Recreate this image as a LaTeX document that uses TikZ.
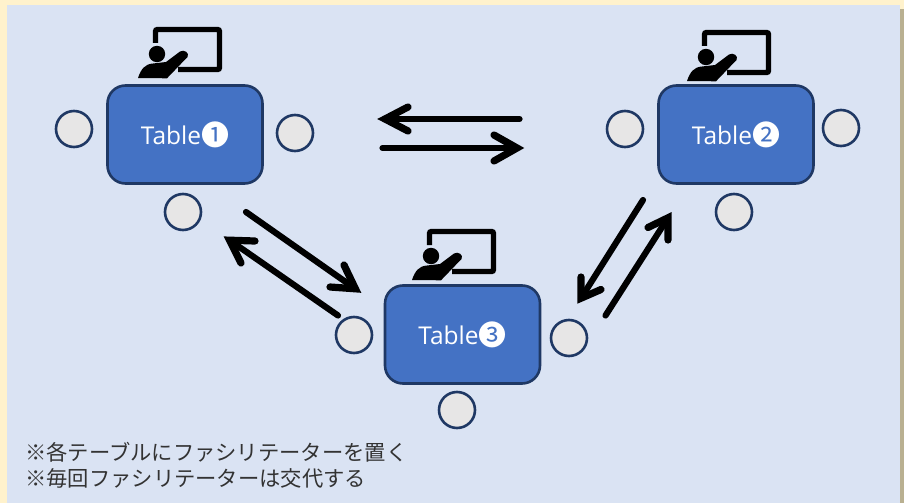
\documentclass[tikz,border=0pt]{standalone}
\usepackage{fontspec}
\setmainfont{Open Sans}
\newfontfamily\jpfont{Noto Sans CJK JP}
\definecolor{cream}{HTML}{FFF2CC}
\definecolor{panel}{HTML}{DAE3F3}
\definecolor{tablefill}{HTML}{4472C4}
\definecolor{navy}{HTML}{1F3864}
\definecolor{seat}{HTML}{E7E6E6}
\definecolor{note}{HTML}{333333}
\definecolor{edgeshade}{HTML}{B9B091}
\newcommand{\bignum}[1]{{\jpfont\fontsize{28}{28}\selectfont\raisebox{-0.4pt}{#1}}\hspace{3pt}}
\newcommand{\flowline}[5]{\draw[flow] (#1) -- (#2); \draw[flowhead] (#3) -- (#4) -- (#5);}
\tikzset{
  x=1pt,y=-1pt,
  tablebox/.style={draw=navy,line width=2.6pt,fill=tablefill,rounded corners=18pt,minimum width=155pt,minimum height=98pt,text=white,inner sep=0pt,font=\fontsize{24.5}{28}\selectfont},
  seatdot/.style={circle,draw=navy,line width=2.6pt,fill=seat,minimum size=36pt,inner sep=0pt},
  flow/.style={line width=6.2pt,line cap=round},
  flowhead/.style={line width=7.2pt,line cap=round,line join=miter,miter limit=10},
  notetext/.style={anchor=west,inner sep=0pt,text=note,font=\jpfont\fontsize{21.3}{25}\selectfont},
  pics/teacher/.style={code={
    \draw[line width=5.4pt,rounded corners=2pt] (155.5,43) -- (155.5,29.5) -- (219.5,29.5) -- (219.5,69.5) -- (178,69.5);
    \fill (157,54) circle (8.2pt);
    \fill (138,78) .. controls (141,69) and (145,64) .. (153,63.5) -- (166,62) -- (180,51.5) .. controls (184,49) and (190,53) .. (187.5,57) -- (167,78.3) -- cycle;
  }}
}
\begin{document}
\begin{tikzpicture}
\useasboundingbox (0,0) rectangle (904,503);
\fill[cream] (0,0) rectangle (904,503);
\fill[edgeshade] (900,9) rectangle (904,503);
\fill[panel] (7,5) rectangle (900,503);
\node[tablebox] (t1) at (185,134.5) {Table\bignum{❶}};
\node[tablebox] (t2) at (736,134.5) {Table\bignum{❷}};
\node[tablebox] (t3) at (462.5,334.5) {Table\bignum{❸}};
\node[seatdot] (s1a) at (74,129) {};
\node[seatdot] (s1b) at (295,133) {};
\node[seatdot] (s1c) at (183,212) {};
\node[seatdot] (s2a) at (625,129) {};
\node[seatdot] (s2b) at (841,128) {};
\node[seatdot] (s2c) at (734,212) {};
\node[seatdot] (s3a) at (354,335) {};
\node[seatdot] (s3b) at (569,338) {};
\node[seatdot] (s3c) at (457,410) {};
\pic at (0,0) {teacher};
\pic at (549,3) {teacher};
\pic at (274,202) {teacher};
\coordinate (a1s) at (519.5,119); \coordinate (a1t) at (385,119);
\coordinate (a1p) at (408,107); \coordinate (a1q) at (408,131);
\coordinate (a2s) at (382.5,148); \coordinate (a2t) at (517,148);
\coordinate (a2p) at (494,135); \coordinate (a2q) at (494,161);
\coordinate (a3s) at (246,212); \coordinate (a3t) at (355.4,288.8);
\coordinate (a3p) at (344,265); \coordinate (a3q) at (330,287);
\coordinate (a4s) at (338,315.5); \coordinate (a4t) at (229.6,240.2);
\coordinate (a4p) at (255,241); \coordinate (a4q) at (241,263);
\coordinate (a5s) at (643,200); \coordinate (a5t) at (581,298.2);
\coordinate (a5p) at (581,277); \coordinate (a5q) at (601,289.5);
\coordinate (a6s) at (605.5,315.5); \coordinate (a6t) at (668,217.8);
\coordinate (a6p) at (648,227.5); \coordinate (a6q) at (668,240);
\flowline{a1s}{a1t}{a1p}{a1t}{a1q}
\flowline{a2s}{a2t}{a2p}{a2t}{a2q}
\flowline{a3s}{a3t}{a3p}{a3t}{a3q}
\flowline{a4s}{a4t}{a4p}{a4t}{a4q}
\flowline{a5s}{a5t}{a5p}{a5t}{a5q}
\flowline{a6s}{a6t}{a6p}{a6t}{a6q}
\node[notetext] (n1) at (25,452) {※各テーブルにファシリテーターを置く};
\node[notetext] (n2) at (25,478) {※毎回ファシリテーターは交代する};
\end{tikzpicture}
\end{document}
